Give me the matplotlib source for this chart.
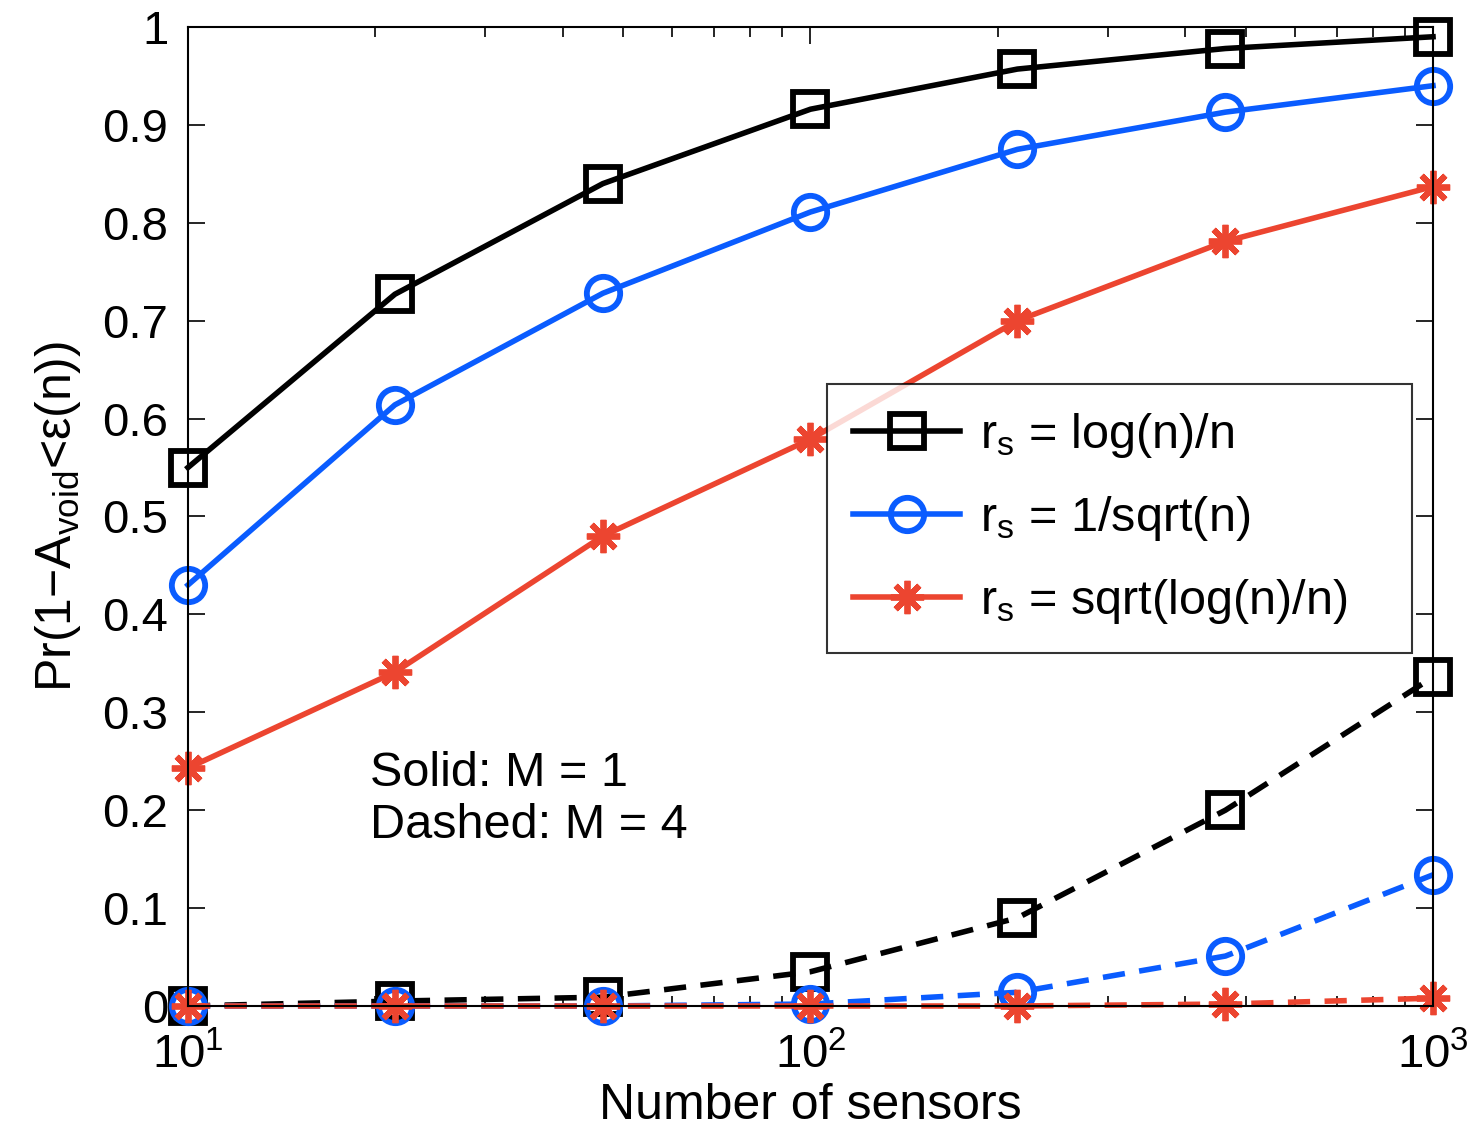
import matplotlib.pyplot as plt
import matplotlib.ticker as mticker

plt.rcParams['font.family'] = ['Liberation Sans', 'DejaVu Sans']
plt.rcParams['mathtext.fontset'] = 'custom'
plt.rcParams['mathtext.rm'] = 'Liberation Sans'
plt.rcParams['mathtext.it'] = 'Liberation Sans'
plt.rcParams['mathtext.default'] = 'regular'

# number of sensors
n = [10, 21.5, 46.4, 100, 215, 464, 1000]

# M = 1 (solid)
log_m1 = [0.550, 0.727, 0.840, 0.916, 0.957, 0.978, 0.990]
inv_m1 = [0.430, 0.614, 0.728, 0.811, 0.875, 0.913, 0.940]
sql_m1 = [0.243, 0.341, 0.480, 0.579, 0.700, 0.781, 0.837]

# M = 4 (dashed)
log_m4 = [0.000, 0.005, 0.009, 0.035, 0.090, 0.200, 0.336]
inv_m4 = [0.000, 0.000, 0.000, 0.002, 0.014, 0.051, 0.134]
sql_m4 = [0.000, 0.000, 0.000, 0.000, 0.000, 0.002, 0.008]

labels = ['r$_\\mathrm{s}$ = log(n)/n', 'r$_\\mathrm{s}$ = 1/sqrt(n)', 'r$_\\mathrm{s}$ = sqrt(log(n)/n)']
colors = ['black', '#0A5CFF', '#EC4530']
markers = ['s', 'o', (8, 2, 0)]

fig = plt.figure(figsize=(14.74, 11.33), dpi=100)
ax = fig.add_axes([0.1275, 0.1121, 0.8447, 0.8641])

solid = [log_m1, inv_m1, sql_m1]
dashed = [log_m4, inv_m4, sql_m4]
handles = []
for ys, c, m, lab in zip(solid, colors, markers, labels):
    h, = ax.plot(n, ys, color=c, lw=4, marker=m, ms=24, mew=4.2,
                 mfc='none', mec=c, label=lab, clip_on=False)
    handles.append(h)
for ys, c, m in zip(dashed, colors, markers):
    ax.plot(n, ys, color=c, lw=4, ls=(0, (4, 2.6)), marker=m, ms=24, mew=4.2,
            mfc='none', mec=c, clip_on=False)

ax.set_xscale('log')
ax.set_xlim(10, 1000)
ax.set_ylim(0, 1)
ax.set_yticks([i / 10 for i in range(11)])
ax.yaxis.set_major_formatter(mticker.FuncFormatter(lambda v, p: '%g' % v))
ax.tick_params(which='both', direction='in', top=True, right=True, labelsize=34, width=1.2)
ax.tick_params(which='major', length=12)
ax.tick_params(which='minor', length=7)
ax.tick_params(axis='x', pad=20)
ax.tick_params(axis='y', pad=14)
for s in ax.spines.values():
    s.set_linewidth(1.5)

ax.set_xlabel('Number of sensors', fontsize=36, labelpad=3)
ax.set_ylabel('Pr(1\u2212A$_\\mathrm{void}$<\u03b5(n))', fontsize=36, labelpad=14)

ax.text(0.146, 0.26, 'Solid: M = 1\nDashed: M = 4', transform=ax.transAxes,
        fontsize=35, va='top', ha='left', linespacing=1.2)

leg = ax.legend(handles=handles, loc='upper left', bbox_to_anchor=(0.513, 0.35, 0.47, 0.285),
                mode='expand', fontsize=35, handlelength=2.2, handletextpad=0.4,
                frameon=True, fancybox=False, edgecolor='black', borderpad=0.55,
                labelspacing=0.7, borderaxespad=0)
leg.get_frame().set_linewidth(1.5)

fig.savefig('out.png', dpi=100)
